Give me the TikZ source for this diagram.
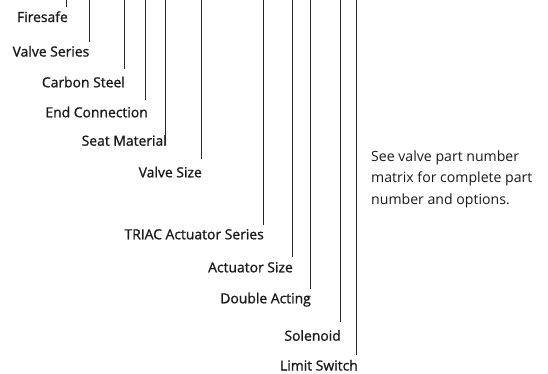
\documentclass[tikz,border=0pt]{standalone}
\usepackage{fontspec}
\setmainfont{Open Sans}
\newfontfamily\labfont[FakeBold=1.1]{Open Sans}
\begin{document}
\begin{tikzpicture}[x=1pt,y=-1pt,
  lab/.style={anchor=base east,inner sep=0pt,font=\labfont\fontsize{13.9}{16}\selectfont,text=black!90},
  note/.style={anchor=base west,inner sep=0pt,align=left,font=\fontsize{14.1}{21.5}\selectfont,text=black!90},
  leader/.style={draw=black!85,line width=0.7pt}]
\useasboundingbox (0,0) rectangle (548,373);
% labels
\node[lab] (fs) at (68,22) {Firesafe};
\node[lab] (vs) at (89.5,56.5) {Valve Series};
\node[lab] (cs) at (125,87.3) {Carbon Steel};
\node[lab] (ec) at (148,117.3) {End Connection};
\node[lab] (sm) at (167,145.7) {Seat Material};
\node[lab] (vz) at (202,177.3) {Valve Size};
\node[lab] (ta) at (264,239.3) {TRIAC Actuator Series};
\node[lab] (as) at (293,272.3) {Actuator Size};
\node[lab] (da) at (311,303.3) {Double Acting};
\node[lab] (so) at (341,340.7) {Solenoid};
\node[lab] (ls) at (358,370.5) {Limit Switch};
\node[note] (nt) at (371,204) {See valve part number\\matrix for complete part\\number and options.};
% leader ends
\coordinate (t1) at (66.7,0);  \coordinate (e1) at (66.7,7);
\coordinate (t2) at (89,0);    \coordinate (e2) at (89,42);
\coordinate (t3) at (124,0);   \coordinate (e3) at (124,69);
\coordinate (t4) at (145.7,0); \coordinate (e4) at (145.7,100);
\coordinate (t5) at (165.7,0); \coordinate (e5) at (165.7,145);
\coordinate (t6) at (201,0);   \coordinate (e6) at (201,159);
\coordinate (t7) at (263.3,0); \coordinate (e7) at (263.3,225);
\coordinate (t8) at (292.3,0); \coordinate (e8) at (292.3,257);
\coordinate (t9) at (310,0);   \coordinate (e9) at (310,289);
\coordinate (t10) at (340,0);  \coordinate (e10) at (340,322);
\coordinate (t11) at (356.7,0);\coordinate (e11) at (356.7,355);
\foreach \i in {1,...,11} {\draw[leader] (t\i) -- (e\i);}
\end{tikzpicture}
\end{document}
